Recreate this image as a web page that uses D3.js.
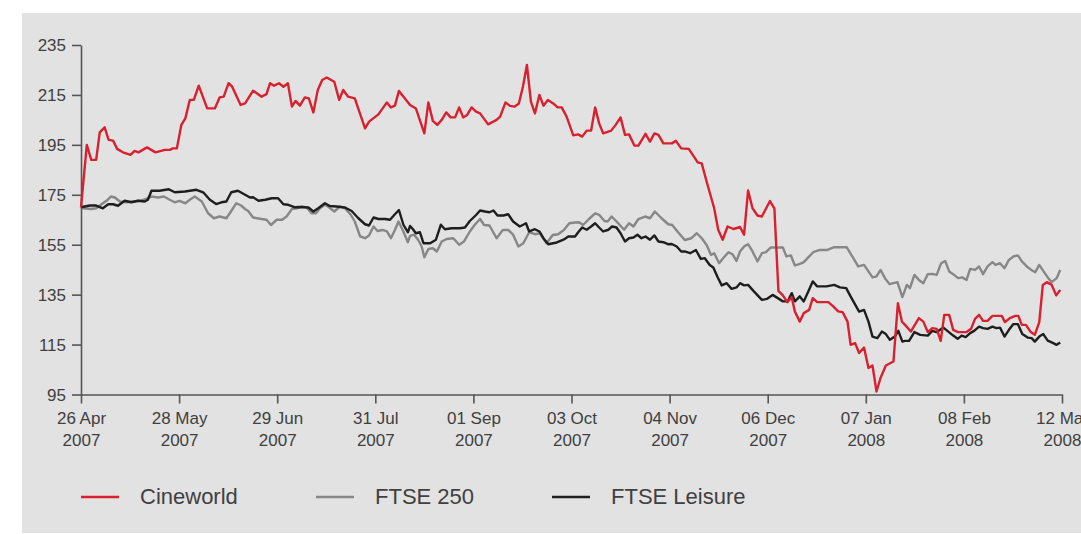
<!DOCTYPE html>
<html>
<head>
<meta charset="utf-8">
<script src="https://cdn.jsdelivr.net/npm/d3@7"></script>
<style>
  html, body { margin: 0; padding: 0; background: #ffffff; }
  svg { display: block; }
  text { font-family: "Liberation Sans", Arial, Helvetica, sans-serif; fill: #404040; }
</style>
</head>
<body>
<svg id="chart" width="1081" height="534"></svg>
<script>
// ---- Data (trading-day index, value) ----
const tickDays = [0, 22, 44, 66, 88, 110, 132, 154, 176, 198, 220];
const tickDates = ["26 Apr", "28 May", "29 Jun", "31 Jul", "01 Sep", "03 Oct", "04 Nov", "06 Dec", "07 Jan", "08 Feb", "12 Mar"];
const tickYears = ["2007", "2007", "2007", "2007", "2007", "2007", "2007", "2007", "2008", "2008", "2008"];
const yTicks = [95, 115, 135, 155, 175, 195, 215, 235];
const seriesNames = ["Cineworld", "FTSE 250", "FTSE Leisure"];

const cineworld = [
  [0,170],[1.3,195],[2.3,189],[3.4,189],[4.2,200],[5.3,202],[6.2,197],[7.2,196.7],[8.1,193.4],[9.4,192],
  [11.1,191],[12.0,192.6],[12.9,192],[14.8,194],[16.7,192],[18.8,193],[19.9,193],[20.6,193.6],[21.5,193.6],[22.5,203],
  [23.4,205.6],[24.4,213],[25.3,213],[26.4,218.7],[28.3,209.6],[30.0,209.6],[31.1,214],[32.0,214.3],[33.1,219.7],[33.9,218.3],
  [35.8,211],[36.8,211.6],[38.6,216.7],[40.5,214.3],[41.6,215.3],[42.4,219.7],[43.3,218.7],[44.4,219.7],[45.4,218.3],[46.4,219.7],
  [47.3,210.3],[48.1,212.6],[49.1,210.7],[50.2,214],[51.1,213.6],[52.1,208],[53.1,217],[54.1,221],[55.1,222],[56.8,220.3],
  [57.9,213],[58.8,217],[59.9,214.3],[61.4,213.6],[63.7,201.6],[64.6,204.3],[66.7,207.2],[68.6,212],[69.5,210],[70.4,210.7],
  [71.3,216.6],[73.8,211],[75.1,209.6],[77.0,199.6],[77.9,212],[78.9,204.6],[79.9,203],[80.9,205],[81.9,208],[82.9,206],
  [83.9,206],[84.8,210],[85.7,206],[86.6,207],[87.6,210],[88.6,208.3],[89.5,207.6],[91.3,203.2],[93.2,205],[94.0,206.3],
  [95.2,212],[96.2,210.6],[97.2,210.3],[98.2,211.6],[99.1,218.3],[100.0,227],[100.9,212.3],[101.8,207.6],[102.8,215],[103.7,210.7],
  [104.7,213],[105.9,211.6],[106.9,210],[107.8,210],[108.9,206.3],[110.4,198.8],[111.5,199.2],[112.4,198.3],[113.4,200.7],[114.4,200.7],
  [115.3,210],[116.2,203.6],[117.1,199.6],[118.9,200.7],[119.9,203],[121.0,206],[122.0,199],[122.9,199.2],[124.1,194.7],[125.0,194.7],
  [126.6,199.4],[127.6,196.3],[128.6,199.6],[129.5,199],[130.6,195.6],[132.5,195.6],[133.4,196.6],[134.6,193.6],[136.3,193.4],[138.3,188],
  [139.2,187.6],[140.3,180.3],[142.0,169.6],[142.9,161],[143.9,157],[145.0,162.3],[146.3,161.3],[147.8,162.1],[148.7,159],[149.6,176.7],
  [150.6,169.6],[151.7,166.7],[152.7,166.3],[154.5,172.5],[155.5,169.6],[156.4,136.5],[157.4,134.7],[158.4,132],[159.4,133.9],[160.1,128.2],
  [161.2,124.2],[162.1,127.6],[163.3,128.9],[164.1,133.6],[165.1,132],[167.6,132],[168.7,130.3],[169.8,128.3],[170.8,128],[171.9,124.2],
  [172.6,114.9],[173.6,115.6],[174.5,111.6],[175.6,113.8],[176.6,105.6],[177.5,106.6],[178.4,96.2],[179.3,101.6],[180.5,106.6],[182.2,108.2],
  [183.2,131.6],[184.1,124.2],[184.8,122.9],[186.1,120.2],[187.9,125.6],[188.9,124.2],[189.9,120],[190.9,121.6],[191.9,121.3],[192.8,116.5],
  [193.6,126.9],[194.7,126.9],[195.6,120.9],[196.7,120],[198.6,120],[199.6,121.3],[200.5,125.3],[201.4,126.9],[202.3,124.5],[203.3,124.5],
  [204.4,126.5],[206.5,126.5],[207.2,124],[208.3,125.6],[209.5,126.5],[210.2,126.5],[211.0,122.9],[211.9,122.9],[213.0,120],[213.9,118.9],
  [214.9,124],[215.7,138.9],[216.6,140],[217.7,138.9],[218.7,134.7],[219.6,136.9]
];

const ftse250 = [
  [0,170],[0.4,169.6],[2.3,169.3],[3.4,169.6],[4.6,171.2],[5.7,172.6],[6.7,174.3],[7.6,173.9],[8.7,172.3],[10.2,172],
  [11.7,172.3],[13.2,172.6],[14.6,173.4],[15.8,174.3],[17.3,173.9],[18.6,174.3],[19.9,173],[21.0,172],[22.1,172.6],[23.4,171.6],
  [24.4,173],[25.5,174.3],[27.1,172.3],[28.5,167.6],[29.8,165.6],[31.1,166.3],[32.6,165.6],[33.7,168.5],[34.8,171.6],[35.9,170.7],
  [36.8,169.3],[37.5,168.5],[38.6,165.9],[40.5,165.3],[41.6,165],[42.6,162.9],[43.9,165],[45.1,165],[46.1,166.3],[47.3,169.3],
  [48.4,169.6],[49.5,170.3],[50.6,169.9],[51.7,167.6],[52.7,167.6],[53.6,169.6],[54.7,171],[55.6,170],[56.8,168.3],[58.1,170.3],
  [59.2,169.6],[60.5,167],[61.4,164.3],[62.6,158.3],[63.7,157.6],[64.6,158.7],[65.6,162.3],[66.5,160.5],[67.6,160.9],[68.6,160.3],
  [69.5,157.6],[70.4,160.9],[71.2,164.3],[72.3,160.3],[73.3,156],[73.8,158.5],[74.7,159],[75.6,157],[76.4,154.3],[77.0,150],
  [77.9,153.3],[78.9,153.6],[79.8,152.3],[80.9,156.3],[82.0,157.3],[83.5,157.6],[84.8,155],[85.9,156.3],[87.2,160.3],[88.4,163.2],
  [89.5,165.3],[90.4,162.9],[91.6,162.7],[93.2,157.6],[94.6,160.9],[95.8,160.9],[96.9,159],[98.1,154.3],[99.2,155.6],[100.5,160],
  [101.8,159.2],[102.9,159.6],[104.4,155.6],[105.8,158.9],[107.0,159.2],[108.3,160.9],[109.5,163.6],[110.8,163.9],[111.7,164],[112.6,162.9],
  [114.1,165.6],[115.3,167.6],[116.2,167],[117.4,164.5],[118.1,164.3],[119.0,166.3],[120.1,164.3],[121.8,161],[122.9,163.6],[123.9,162.3],
  [125.0,165.3],[126.5,166.3],[127.6,165.6],[128.7,168.3],[130.2,165.6],[131.7,163.2],[132.6,162.9],[133.9,160],[135.4,156.9],[136.9,157.6],
  [138.1,159.6],[139.2,157.6],[140.3,154.9],[141.3,150.9],[142.0,151.6],[143.1,147.6],[144.0,149.6],[145.2,152],[146.1,151.2],[147.0,148.5],
  [147.8,152.3],[148.7,154.3],[149.6,155.2],[150.6,152.3],[151.7,148.3],[152.7,151.6],[153.6,152],[154.7,153.9],[157.4,153.9],[158.2,150.3],
  [159.2,150.7],[160.1,146.7],[161.1,147.2],[162.1,148],[163.1,149.9],[164.2,152],[165.7,152.9],[167.4,152.9],[168.9,154],[171.7,154],
  [173.2,149.6],[174.3,146.3],[175.6,146.9],[176.6,144.3],[177.5,141.9],[178.4,142.3],[179.3,144.9],[180.3,141.6],[181.3,139.2],[183.1,140],
  [184.2,134],[184.8,136.9],[185.2,138.9],[185.9,137.6],[186.9,142.9],[187.9,140.9],[188.9,139.6],[189.9,143.2],[190.9,143.3],[191.9,142.9],
  [192.9,147.6],[193.8,148.5],[194.7,144.3],[195.6,143.2],[196.7,141.6],[197.6,141.9],[198.6,140.9],[199.4,145.3],[200.5,144.9],[201.4,146.3],
  [202.3,143.2],[203.3,146.3],[204.4,148],[205.1,146.9],[206.1,147.6],[207.1,145.6],[208.1,148.9],[209.1,150.3],[210.1,150.7],[211.0,148.3],
  [212.1,146.3],[213.1,144.9],[214.0,144],[214.9,146.9],[215.8,144.5],[216.8,141.9],[217.7,140],[218.8,141.6],[219.6,144.9]
];

const ftseLeisure = [
  [0,170],[2.0,170.7],[3.4,170.7],[4.9,169.6],[6.1,171.2],[7.2,171.2],[8.3,170.6],[9.8,172.6],[11.3,172],[12.8,172.6],
  [14.3,172.3],[15.0,173],[15.8,176.6],[17.6,176.6],[19.7,177.2],[21.0,176],[23.3,176.3],[25.9,177],[27.4,176],[28.9,173],
  [30.3,171.3],[31.5,172],[32.6,172.3],[33.7,176],[35.2,176.6],[36.8,175],[37.9,173.9],[38.6,174],[39.8,172.6],[41.3,173],
  [42.8,173.6],[44.2,173.6],[45.4,171.2],[46.5,171],[48.0,170],[49.1,170.1],[51.0,169.9],[52.1,168.3],[53.2,169.6],[54.7,171.6],
  [55.8,170.5],[57.3,170.3],[59.2,169.9],[60.7,168.5],[62.2,165.6],[63.7,163.2],[64.6,162.7],[65.6,165.9],[66.7,165.3],[68.2,165.3],
  [69.3,165],[70.4,167.2],[71.3,168.9],[72.3,163],[73.3,160],[73.8,162.5],[74.4,161.3],[75.1,159.6],[76.0,160],[76.8,155.6],
  [78.3,155.6],[79.6,157],[80.7,163],[81.6,161.2],[83.1,161.6],[85.0,161.6],[86.1,161.9],[87.2,164.5],[88.6,166.9],[89.5,168.7],
  [90.6,168.3],[91.6,168],[92.5,168.7],[93.4,166.7],[94.7,166.7],[95.8,167.2],[96.9,164.3],[98.4,162.3],[99.8,163.6],[100.5,160.3],
  [101.8,161.2],[102.8,160.3],[103.7,157.6],[104.8,155.2],[106.7,155.9],[108.2,157],[109.3,158.3],[110.8,158.3],[111.5,160],[112.4,161.9],
  [113.4,161],[114.4,162.3],[115.3,163.6],[116.2,161.9],[117.1,160.3],[118.3,161],[119.1,162.3],[120.1,161.9],[121.0,159.6],[122.0,156.3],
  [122.9,157.6],[123.9,157.9],[124.8,159],[125.7,157.6],[126.6,158.3],[127.6,157],[128.6,158.7],[129.5,156.3],[130.6,156],[131.6,155.2],
  [132.5,155.3],[133.6,154.3],[134.6,152.3],[135.4,152.3],[136.6,151.6],[137.9,152.9],[139.0,149.3],[139.9,149.6],[141.0,146.9],[141.8,145.9],
  [142.8,141.9],[143.7,138.7],[144.8,139.6],[145.9,137.3],[147.0,137.9],[147.8,139.6],[148.7,138.7],[149.6,138.9],[150.8,136.5],[152.7,132.9],
  [153.8,133.3],[155.1,134.9],[156.0,133.9],[157.4,132.3],[158.5,132.3],[159.4,135.6],[160.1,132.3],[161.2,134.3],[162.1,132.3],[163.1,136.3],
  [164.1,140.3],[165.1,138.3],[167.2,138.3],[168.9,138.9],[170.2,137.9],[171.6,137.6],[172.8,133.6],[174.5,128.2],[175.6,128.9],[176.6,124.2],
  [177.5,118.2],[178.6,117.6],[179.6,120.2],[180.5,119.2],[181.4,116.9],[182.5,118.2],[183.3,120.5],[184.2,116.2],[184.8,116.5],[185.7,116.5],
  [186.9,120],[188.2,118.9],[189.9,118.6],[190.9,120.5],[191.9,120],[193.4,121.8],[194.5,120.2],[195.6,118.6],[196.6,117.3],[197.5,118.6],
  [198.4,118],[199.4,119.6],[200.3,120.5],[201.4,122.2],[202.3,121.6],[203.3,121.3],[204.4,122.2],[205.3,121.6],[206.1,121.8],[207.1,118.2],
  [208.1,120.9],[209.1,123.2],[210.1,123.2],[211.1,119.2],[212.3,117.8],[213.2,117.6],[213.9,116.2],[214.9,118.2],[215.8,119.2],[216.8,116.6],
  [217.8,115.8],[218.8,114.9],[219.6,115.8]
];

const seriesData = [cineworld, ftse250, ftseLeisure];
const seriesColors = ["#d9202e", "#878787", "#1e1e1e"];

// ---- Layout ----
const svg = d3.select("#chart");
const W = 1081, H = 534;

svg.append("rect")
  .attr("x", 22).attr("y", 13)
  .attr("width", W - 22).attr("height", 520)
  .attr("fill", "#e2e2e2");

const x = d3.scaleLinear().domain([0, 220]).range([81, 1062]);
const y = d3.scaleLinear().domain([95, 235]).range([394.5, 45]);

// Y axis
const yAxis = svg.append("g")
  .attr("transform", "translate(81,0)")
  .call(d3.axisLeft(y).tickValues(yTicks).tickSize(9).tickSizeOuter(0).tickPadding(6).tickFormat(d3.format("d")));
yAxis.selectAll("text").style("font-size", "17px").attr("dy", "0.35em");

// X axis
const xAxis = svg.append("g")
  .attr("transform", "translate(0,394.5)")
  .call(d3.axisBottom(x).tickValues(tickDays).tickSize(9).tickSizeOuter(0).tickFormat(""));
xAxis.selectAll(".tick").each(function(d, i) {
  const t = d3.select(this).append("text")
    .attr("text-anchor", "middle")
    .style("font-size", "17px");
  t.append("tspan").attr("x", 0).attr("y", 29).text(tickDates[i]);
  t.append("tspan").attr("x", 0).attr("y", 51).text(tickYears[i]);
});

[yAxis, xAxis].forEach(g => {
  g.select(".domain").attr("stroke", "#555").attr("stroke-width", 1.6);
  g.selectAll(".tick line").attr("stroke", "#555").attr("stroke-width", 1.6);
});

// Lines
const line = d3.line().x(d => x(d[0])).y(d => y(d[1]));
const drawOrder = [1, 2, 0];
drawOrder.forEach(k => {
  svg.append("path")
    .datum(seriesData[k])
    .attr("fill", "none")
    .attr("stroke", seriesColors[k])
    .attr("stroke-width", 2.4)
    .attr("stroke-linejoin", "round")
    .attr("d", line);
});

// Legend
const legendX = [81, 316, 552];
const legend = svg.append("g");
seriesNames.forEach((name, i) => {
  legend.append("line")
    .attr("x1", legendX[i]).attr("x2", legendX[i] + 38)
    .attr("y1", 497).attr("y2", 497)
    .attr("stroke", seriesColors[i]).attr("stroke-width", 2.6);
  legend.append("text")
    .attr("x", legendX[i] + 59).attr("y", 503.5)
    .style("font-size", "22px")
    .text(name);
});
</script>
</body>
</html>
